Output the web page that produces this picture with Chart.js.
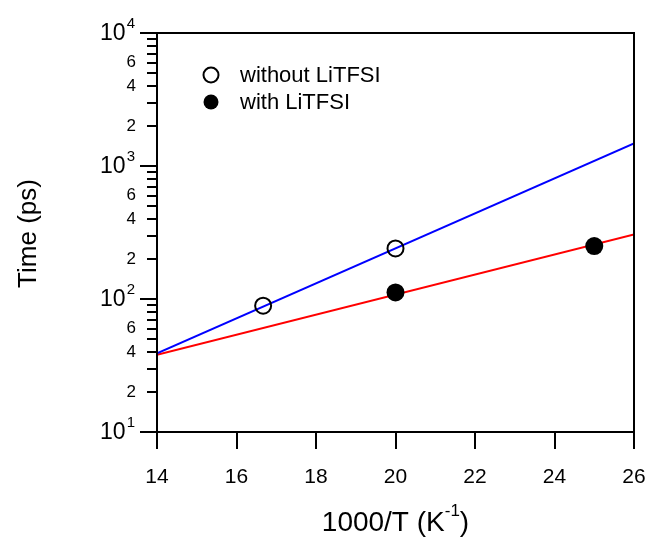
<!DOCTYPE html>
<html>
<head>
<meta charset="utf-8">
<script src="https://cdn.jsdelivr.net/npm/chart.js@4/dist/chart.umd.min.js"></script>
<style>
  html, body { margin: 0; padding: 0; background: #fff; overflow: hidden; }
  #wrap { width: 649px; height: 541px; }
  canvas { display: block; }
</style>
</head>
<body>
<div id="wrap"><canvas id="timeChart"></canvas></div>
<script>
// measured points
const withoutX = [16.67, 20];
const withoutY = [89, 240];
const withX = [20, 25];
const withY = [112, 250];

// fitted lines (Arrhenius fits), read at the axis ends
const fitX = [14, 26];
const fitWithout = [39, 1480];
const fitWith = [38, 305];

// axis ticks
const xTicks = [14, 16, 18, 20, 22, 24, 26];
const yDecades = [10, 100, 1000, 10000];
const yMinorLabels = [2, 4, 6];

const FONT = '"Liberation Sans", Arial, sans-serif';

function toPoints(xs, ys) {
    return xs.map((x, i) => ({ x: x, y: ys[i] }));
}

const yTickValues = [];
yDecades.forEach((d, i) => {
    yTickValues.push(d);
    if (i < yDecades.length - 1) {
        for (let s = 2; s <= 9; s++) yTickValues.push(d * s);
    }
});

// frame, ticks, superscript labels, titles and legend
const axisDecor = {
    id: 'axisDecor',
    afterDraw(chart) {
        const ctx = chart.ctx;
        const area = chart.chartArea;
        const xs = chart.scales.x;
        const ys = chart.scales.y;
        ctx.save();
        ctx.strokeStyle = '#000';
        ctx.lineWidth = 2;
        ctx.strokeRect(area.left, area.top, area.right - area.left, area.bottom - area.top);

        // x ticks
        ctx.beginPath();
        xTicks.forEach(v => {
            const px = Math.round(xs.getPixelForValue(v));
            ctx.moveTo(px, area.bottom);
            ctx.lineTo(px, area.bottom + 17);
        });
        ctx.stroke();

        // y ticks
        ctx.beginPath();
        yTickValues.forEach(v => {
            const py = Math.round(ys.getPixelForValue(v));
            const len = yDecades.includes(v) ? 17 : 10;
            ctx.moveTo(area.left - len, py);
            ctx.lineTo(area.left, py);
        });
        ctx.stroke();

        // decade labels 10^n
        ctx.fillStyle = '#000';
        ctx.textBaseline = 'middle';
        yDecades.forEach(v => {
            const py = ys.getPixelForValue(v);
            const exp = String(Math.round(Math.log10(v)));
            ctx.font = '15px ' + FONT;
            const ew = ctx.measureText(exp).width;
            ctx.textAlign = 'left';
            ctx.fillText(exp, area.left - 22 - ew, py - 9);
            ctx.font = '23px ' + FONT;
            ctx.textAlign = 'right';
            ctx.fillText('10', area.left - 23 - ew, py + 1);
        });

        // y title
        ctx.save();
        ctx.translate(29, (area.top + area.bottom) / 2 + 1);
        ctx.rotate(-Math.PI / 2);
        ctx.font = '26px ' + FONT;
        ctx.textAlign = 'center';
        ctx.textBaseline = 'middle';
        ctx.fillText('Time (ps)', 0, 0);
        ctx.restore();

        // x title with superscript
        const base = '1000/T (K';
        const sup = '-1';
        const tail = ')';
        ctx.font = '28px ' + FONT;
        const wb = ctx.measureText(base).width;
        const wt = ctx.measureText(tail).width;
        ctx.font = '17px ' + FONT;
        const ws = ctx.measureText(sup).width;
        let tx = (area.left + area.right) / 2 - (wb + ws + wt) / 2;
        const ty = 531;
        ctx.textAlign = 'left';
        ctx.textBaseline = 'alphabetic';
        ctx.font = '28px ' + FONT;
        ctx.fillText(base, tx, ty);
        tx += wb;
        ctx.font = '17px ' + FONT;
        ctx.fillText(sup, tx, ty - 15);
        tx += ws;
        ctx.font = '28px ' + FONT;
        ctx.fillText(tail, tx, ty);

        // legend
        const items = [
            { label: 'without LiTFSI', fill: false, y: 75 },
            { label: 'with LiTFSI', fill: true, y: 102 }
        ];
        items.forEach(it => {
            ctx.beginPath();
            ctx.arc(211, it.y, 7.5, 0, Math.PI * 2);
            if (it.fill) {
                ctx.fillStyle = '#000';
                ctx.fill();
            } else {
                ctx.lineWidth = 2;
                ctx.strokeStyle = '#000';
                ctx.stroke();
            }
            ctx.fillStyle = '#000';
            ctx.font = '22px ' + FONT;
            ctx.textAlign = 'left';
            ctx.textBaseline = 'middle';
            ctx.fillText(it.label, 240, it.y + 1);
        });
        ctx.restore();
    }
};

const ctx = document.getElementById('timeChart').getContext('2d');
const timeChart = new Chart(ctx, {
    type: 'scatter',
    data: {
        datasets: [
            {
                label: 'without LiTFSI',
                data: toPoints(withoutX, withoutY),
                pointRadius: 8,
                pointBorderWidth: 2,
                pointBorderColor: '#000',
                pointBackgroundColor: 'rgba(0,0,0,0)',
                showLine: false,
                order: 0
            },
            {
                label: 'with LiTFSI',
                data: toPoints(withX, withY),
                pointRadius: 9,
                pointBorderWidth: 0,
                pointBackgroundColor: '#000',
                showLine: false,
                order: 0
            },
            {
                label: 'fit without',
                data: toPoints(fitX, fitWithout),
                showLine: true,
                borderColor: '#0000ff',
                borderWidth: 2,
                pointRadius: 0,
                order: 1
            },
            {
                label: 'fit with',
                data: toPoints(fitX, fitWith),
                showLine: true,
                borderColor: '#ff0000',
                borderWidth: 2,
                pointRadius: 0,
                order: 1
            }
        ]
    },
    options: {
        responsive: true,
        maintainAspectRatio: false,
        animation: false,
        layout: { padding: { top: 33, right: 15, left: 0, bottom: 0 } },
        plugins: {
            legend: { display: false },
            tooltip: { enabled: false }
        },
        scales: {
            x: {
                type: 'linear',
                min: 14,
                max: 26,
                afterFit(scale) {
                    scale.height = 109;
                    scale.paddingLeft = 0;
                    scale.paddingRight = 0;
                },
                afterBuildTicks(scale) { scale.ticks = xTicks.map(v => ({ value: v })); },
                grid: { display: false },
                border: { display: false },
                ticks: {
                    color: '#000',
                    font: { family: FONT, size: 21 },
                    padding: 25,
                    maxRotation: 0,
                    autoSkip: false
                }
            },
            y: {
                type: 'logarithmic',
                min: 10,
                max: 10000,
                afterFit(scale) {
                    scale.width = 157;
                    scale.paddingTop = 0;
                    scale.paddingBottom = 0;
                },
                afterBuildTicks(scale) { scale.ticks = yTickValues.map(v => ({ value: v })); },
                grid: { display: false },
                border: { display: false },
                ticks: {
                    color: '#000',
                    font: { family: FONT, size: 17 },
                    padding: 13,
                    autoSkip: false,
                    callback(value) {
                        for (const d of yDecades) {
                            for (const s of yMinorLabels) {
                                if (Math.abs(value - d * s) < 1e-6 * value) return String(s);
                            }
                        }
                        return '';
                    }
                }
            }
        }
    },
    plugins: [axisDecor]
});
</script>
</body>
</html>
